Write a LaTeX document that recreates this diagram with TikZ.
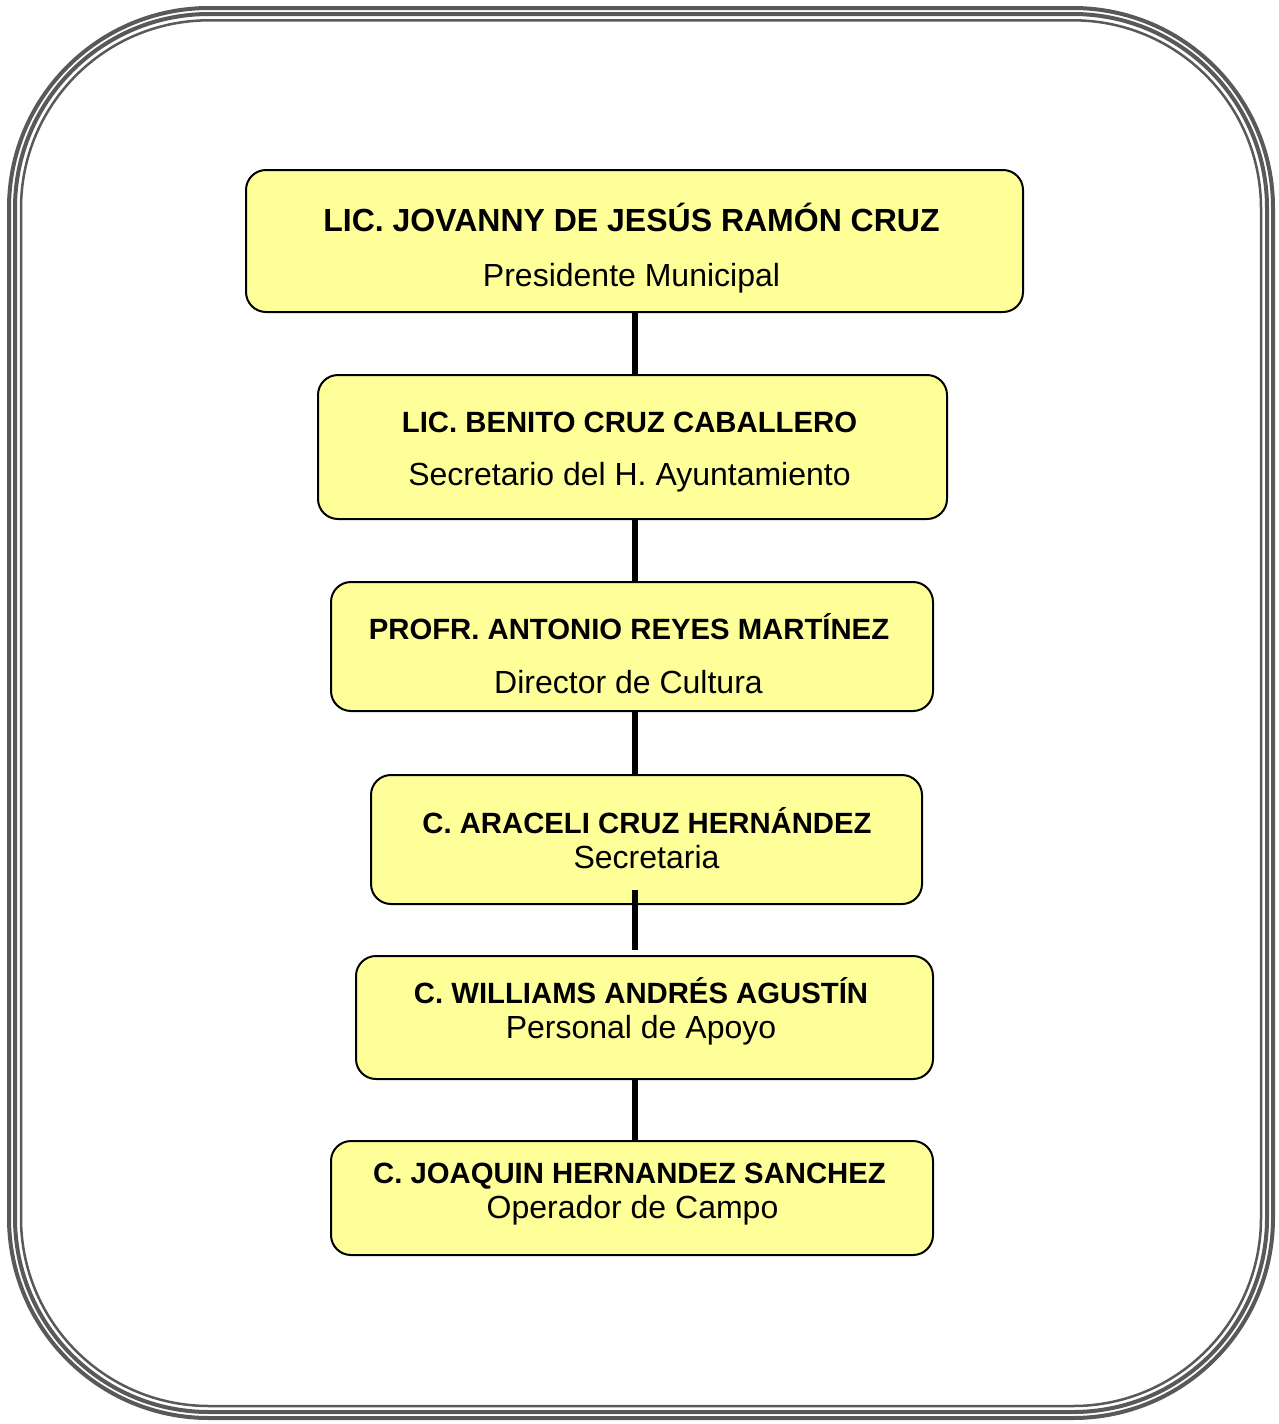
\documentclass[tikz,border=0pt]{standalone}
\usepackage{fontspec}
\setmainfont{Liberation Sans}
\usetikzlibrary{calc}
\definecolor{boxfill}{HTML}{FFFF99}
\definecolor{framegray}{RGB}{89,89,89}
\begin{document}
\begin{tikzpicture}[x=1pt,y=-1pt,
  orgbox/.style={draw=black, line width=2pt, fill=boxfill, rounded corners=20pt, inner sep=0pt},
  conn/.style={draw=black, line width=6pt},
  nm/.style={font=\fontsize{29.3}{34}\selectfont\bfseries, anchor=base, inner sep=0pt},
  nmbig/.style={font=\fontsize{32}{38}\selectfont\bfseries, anchor=base, inner sep=0pt},
  role/.style={font=\fontsize{32}{38}\selectfont, anchor=base, inner sep=0pt},
  frameline/.style={draw=framegray}]
\useasboundingbox (0,0) rectangle (1278,1424);
% triple frame
\draw[frameline, line width=4pt, rounded corners=200pt] (9,8) rectangle (1273,1418);
\draw[frameline, line width=4pt, rounded corners=194pt] (15,14) rectangle (1267,1412);
\draw[frameline, line width=2.5pt, rounded corners=188pt] (21,20.3) rectangle (1261,1406);
% boxes
\node[orgbox, minimum width=777pt, minimum height=142pt] (b1) at (634.5,241) {};
\node[orgbox, minimum width=629pt, minimum height=144pt] (b2) at (632.5,447) {};
\node[orgbox, minimum width=602pt, minimum height=129pt] (b3) at (632,646.5) {};
\node[orgbox, minimum width=551pt, minimum height=129pt] (b4) at (646.5,839.5) {};
\node[orgbox, minimum width=577pt, minimum height=123pt] (b5) at (644.5,1017.5) {};
\node[orgbox, minimum width=602pt, minimum height=114pt] (b6) at (632,1198) {};
% texts
\node[nmbig] (t1a) at (631.5,231) {LIC. JOVANNY DE JESÚS RAMÓN CRUZ};
\node[role] (t1b) at (631.5,286.7) {Presidente Municipal};
\node[nm] (t2a) at (629.5,432.7) {LIC. BENITO CRUZ CABALLERO};
\node[role] (t2b) at (629.5,485) {Secretario del H. Ayuntamiento};
\node[nm] (t3a) at (629,639.3) {PROFR. ANTONIO REYES MARTÍNEZ};
\node[role] (t3b) at (628.5,693.3) {Director de Cultura};
\node[nm] (t4a) at (647,833.3) {C. ARACELI CRUZ HERNÁNDEZ};
\node[role] (t4b) at (646.5,868.3) {Secretaria};
\node[nm] (t5a) at (641,1003.3) {C. WILLIAMS ANDRÉS AGUSTÍN};
\node[role] (t5b) at (641,1038.3) {Personal de Apoyo};
\node[nm] (t6a) at (629.5,1183.3) {C. JOAQUIN HERNANDEZ SANCHEZ};
\node[role] (t6b) at (632.5,1218.3) {Operador de Campo};
% connectors
\draw[conn] (b1.south) -- (b2.north -| b1.south);
\draw[conn] (b2.south -| b1.south) -- (b3.north -| b1.south);
\draw[conn] (b3.south -| b1.south) -- (b4.north -| b1.south);
\draw[conn] ($(b4.south -| b1.south)+(0,-15)$) -- ($(b5.north -| b1.south)+(0,-5)$);
\draw[conn] (b5.south -| b1.south) -- (b6.north -| b1.south);
\end{tikzpicture}
\end{document}
